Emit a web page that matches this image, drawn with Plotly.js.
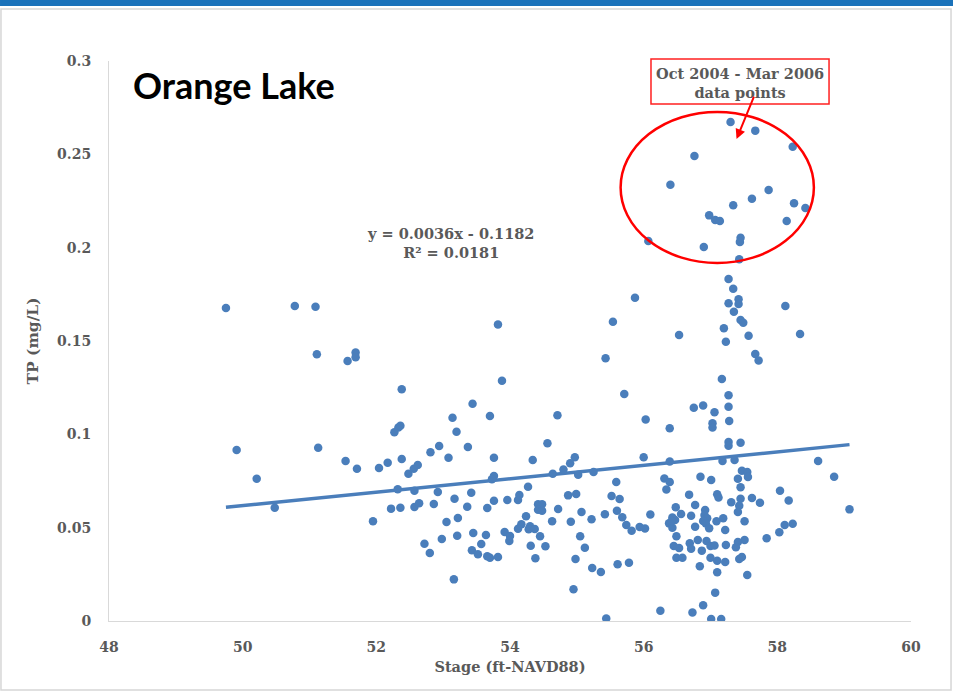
<!DOCTYPE html>
<html>
<head>
<meta charset="utf-8">
<script src="https://cdn.plot.ly/plotly-3.0.1.min.js"></script>
<style>
  html, body { margin: 0; padding: 0; background: #ffffff; }
  #chart { width: 953px; height: 695px; }
</style>
</head>
<body>
<div id="chart"></div>
<script>
// Lake stage (ft-NAVD88) against total phosphorus (mg/L)
const stage = [
  49.75, 50.78, 51.09, 51.11, 51.57, 51.69, 51.69, 52.38, 49.91, 51.13,
  50.21, 50.48, 51.54, 51.71, 52.04, 52.17, 52.38, 52.27, 52.33, 52.36,
  52.81, 52.94, 53.08, 52.48, 52.56, 52.62, 52.32, 52.57, 52.92, 52.22,
  52.36, 52.57, 52.64, 52.86, 51.95, 53.05, 52.98, 52.72, 52.80,
  55.87, 55.54, 53.82, 55.43, 53.88, 55.71, 53.44, 53.14, 53.70, 54.71,
  53.20, 53.37, 53.76, 54.56, 54.34, 54.97, 54.90, 54.80, 55.02, 55.25,
  54.64, 53.76, 53.73, 55.59, 54.27, 53.42, 53.17, 53.76, 53.96, 54.14,
  54.12, 54.87, 54.99, 55.52, 55.64, 53.36, 53.66, 54.42, 54.48, 54.42,
  54.48, 54.72, 55.07, 55.42, 55.60, 53.22, 54.24, 54.63, 54.91, 55.22,
  55.68, 55.74, 55.82, 55.94, 54.17, 54.12, 54.30, 54.28, 54.37, 53.21,
  53.45, 53.64, 53.57, 53.92, 54.00, 53.99, 54.45, 55.05, 55.12, 54.31,
  54.53, 53.43, 53.52, 53.66, 53.70, 53.82, 54.38, 54.98, 55.23, 55.36,
  55.61, 55.78, 53.16, 54.95, 55.44,
  57.27, 57.34, 57.27, 57.42, 57.42, 58.12, 57.35, 57.45, 57.49, 56.53,
  57.20, 57.23, 57.57, 58.34, 57.67, 57.72, 57.17, 57.27, 56.75, 56.89,
  57.27, 57.06, 56.03, 57.28, 56.39, 57.03, 57.03, 57.27, 57.27, 57.45,
  56.00, 56.39, 57.18, 57.36, 58.61, 58.85, 59.08, 57.47, 57.55, 57.56,
  57.41, 56.85, 57.01, 56.31, 56.39, 56.34, 57.45, 58.04, 58.17, 56.68,
  57.10, 57.12, 57.45, 57.62, 57.74, 57.31, 57.43, 57.41, 56.77, 56.48,
  56.56, 56.71, 56.92, 56.91, 56.95, 56.89, 56.93, 56.98, 57.09, 57.19,
  57.22, 57.51, 56.77, 56.43, 56.47, 56.38, 56.43, 56.42, 56.10, 56.02,
  56.49, 57.84, 58.03, 58.11, 58.23, 57.51, 57.41, 57.38, 56.81, 56.94,
  57.00, 57.06, 57.23, 56.69, 56.71, 56.87, 56.45, 56.53, 56.49, 56.58,
  57.00, 57.10, 57.22, 57.43, 57.47, 56.84, 57.10, 57.55, 57.07, 56.89,
  56.25, 56.73, 57.01, 57.16,
  57.30, 57.67, 58.23, 56.76, 56.40, 57.87, 57.62, 57.34, 58.25, 58.42,
  56.98, 57.07, 57.14, 58.14, 57.45, 57.44, 56.07, 56.90, 57.43
];
const tp = [
  0.1677, 0.1688, 0.1684, 0.1429, 0.1393, 0.1439, 0.1413, 0.1241, 0.0916, 0.0928,
  0.0762, 0.0607, 0.0857, 0.0816, 0.0820, 0.0848, 0.0868, 0.1011, 0.1036, 0.1046,
  0.0904, 0.0937, 0.0875, 0.0789, 0.0816, 0.0836, 0.0706, 0.0698, 0.0691, 0.0602,
  0.0607, 0.0611, 0.0631, 0.0627, 0.0534, 0.0530, 0.0439, 0.0414, 0.0364,
  0.1732, 0.1603, 0.1589, 0.1407, 0.1287, 0.1216, 0.1164, 0.1089, 0.1098, 0.1102,
  0.1014, 0.0932, 0.0875, 0.0952, 0.0862, 0.0877, 0.0845, 0.0811, 0.0784, 0.0798,
  0.0789, 0.0777, 0.0759, 0.0745, 0.0719, 0.0687, 0.0655, 0.0644, 0.0648, 0.0675,
  0.0648, 0.0673, 0.0680, 0.0670, 0.0654, 0.0612, 0.0605, 0.0625, 0.0625, 0.0596,
  0.0591, 0.0600, 0.0584, 0.0572, 0.0591, 0.0552, 0.0561, 0.0534, 0.0532, 0.0545,
  0.0556, 0.0514, 0.0484, 0.0504, 0.0518, 0.0494, 0.0507, 0.0491, 0.0493, 0.0457,
  0.0471, 0.0461, 0.0412, 0.0477, 0.0455, 0.0429, 0.0454, 0.0454, 0.0393, 0.0403,
  0.0400, 0.0379, 0.0357, 0.0347, 0.0339, 0.0343, 0.0336, 0.0332, 0.0284, 0.0262,
  0.0304, 0.0312, 0.0223, 0.0170, 0.0014,
  0.1832, 0.1780, 0.1702, 0.1723, 0.1698, 0.1688, 0.1657, 0.1612, 0.1598, 0.1532,
  0.1568, 0.1496, 0.1528, 0.1537, 0.1430, 0.1396, 0.1296, 0.1209, 0.1143, 0.1155,
  0.1148, 0.1118, 0.1080, 0.1071, 0.1032, 0.1059, 0.1036, 0.0959, 0.0939, 0.0955,
  0.0877, 0.0855, 0.0857, 0.0862, 0.0857, 0.0773, 0.0598, 0.0805, 0.0798, 0.0771,
  0.0762, 0.0773, 0.0755, 0.0764, 0.0745, 0.0705, 0.0716, 0.0698, 0.0645, 0.0677,
  0.0679, 0.0661, 0.0655, 0.0659, 0.0634, 0.0636, 0.0618, 0.0584, 0.0621, 0.0609,
  0.0573, 0.0564, 0.0595, 0.0568, 0.0550, 0.0536, 0.0523, 0.0497, 0.0534, 0.0550,
  0.0487, 0.0534, 0.0505, 0.0555, 0.0541, 0.0523, 0.0500, 0.0536, 0.0571, 0.0495,
  0.0454, 0.0443, 0.0475, 0.0514, 0.0521, 0.0434, 0.0423, 0.0395, 0.0434, 0.0429,
  0.0402, 0.0404, 0.0407, 0.0416, 0.0387, 0.0377, 0.0402, 0.0391, 0.0339, 0.0339,
  0.0339, 0.0323, 0.0316, 0.0332, 0.0343, 0.0293, 0.0261, 0.0246, 0.0152, 0.0084,
  0.0055, 0.0046, 0.0011, 0.0011,
  0.2673, 0.2627, 0.2541, 0.2491, 0.2337, 0.2309, 0.2262, 0.2227, 0.2238, 0.2212,
  0.2173, 0.2148, 0.2143, 0.2143, 0.2053, 0.2030, 0.2036, 0.2004, 0.1938
];

// Linear trendline as reported on the chart
const trendSlope = 0.0036;
const trendIntercept = -0.1182;
const trendLabel = ['y = 0.0036x - 0.1182', 'R² = 0.0181'];

const chartTitle = 'Orange Lake';
const xTitle = 'Stage (ft-NAVD88)';
const yTitle = 'TP (mg/L)';
const calloutText = ['Oct 2004 - Mar 2006', 'data points'];

const xTicks = [48, 50, 52, 54, 56, 58, 60];
const yTicks = [0, 0.05, 0.1, 0.15, 0.2, 0.25, 0.3];
const yTickText = ['0', '0.05', '0.1', '0.15', '0.2', '0.25', '0.3'];

const blue = '#4a7ebb';
const grey = '#595959';
const slab = 'DejaVu Serif, serif';

const xMin = Math.min(...stage);
const xMax = Math.max(...stage);
const trendX = [xMin, xMax];
const trendY = trendX.map(v => trendSlope * v + trendIntercept);

const traces = [
  {
    type: 'scatter', mode: 'lines', x: trendX, y: trendY,
    line: { color: blue, width: 3.5 }, hoverinfo: 'skip', showlegend: false
  },
  {
    type: 'scatter', mode: 'markers', x: stage, y: tp,
    marker: { color: blue, size: 8.5, line: { width: 0 } }, showlegend: false
  }
];

const tickFont = { family: slab, size: 14, color: grey, weight: 'bold' };
const axisTitleFont = { family: slab, size: 14.5, color: grey, weight: 'bold' };
const noteFont = { family: slab, size: 14.5, color: grey, weight: 'bold' };

const layout = {
  width: 953, height: 695,
  paper_bgcolor: '#ffffff', plot_bgcolor: '#ffffff',
  margin: { l: 109, r: 42, t: 61, b: 74 },
  showlegend: false,
  title: {
    text: chartTitle,
    font: { family: 'Lato, sans-serif', size: 36, color: '#000000', weight: 'bold' },
    x: 0.030, xref: 'paper', xanchor: 'left',
    y: 0.875, yref: 'container', yanchor: 'middle'
  },
  xaxis: {
    range: [48, 60], tickvals: xTicks, ticktext: xTicks.map(String),
    showgrid: false, zeroline: false,
    showline: true, linecolor: '#d9d9d9', linewidth: 1,
    ticks: 'outside', ticklen: 13, tickcolor: 'rgba(0,0,0,0)',
    tickfont: tickFont,
    title: { text: xTitle, font: axisTitleFont, standoff: 8 }
  },
  yaxis: {
    range: [0, 0.3], tickvals: yTicks, ticktext: yTickText,
    showgrid: false, zeroline: false,
    showline: true, linecolor: '#d9d9d9', linewidth: 1,
    ticks: 'outside', ticklen: 14, tickcolor: 'rgba(0,0,0,0)',
    tickfont: tickFont,
    title: { text: yTitle, font: { family: slab, size: 15.5, color: grey, weight: 'bold' }, standoff: 14 }
  },
  shapes: [
    // slide header bar and frame
    { type: 'rect', xref: 'paper', yref: 'paper',
      x0: -0.1359, x1: 1.0524, y0: 1.0982, y1: 1.1089,
      fillcolor: '#1a72ba', line: { width: 0 }, layer: 'below' },
    { type: 'rect', xref: 'paper', yref: 'paper',
      x0: -0.1347, x1: 1.0499, y0: -0.1232, y1: 1.0929,
      fillcolor: 'rgba(0,0,0,0)', line: { color: '#d6d6d6', width: 1.5 }, layer: 'below' },
    // ellipse around the 2004-2006 points
    { type: 'circle', xref: 'x', yref: 'y',
      x0: 55.655, x1: 58.547, y0: 0.1918, y1: 0.2727,
      line: { color: '#ff0000', width: 2.5 } },
    // callout box
    { type: 'rect', xref: 'paper', yref: 'paper',
      x0: 0.6758, x1: 0.8978, y0: 0.9232, y1: 1.0036,
      fillcolor: 'rgba(0,0,0,0)', line: { color: '#ff2020', width: 1.5 } }
  ],
  annotations: [
    { xref: 'paper', yref: 'paper', x: 0.7868, y: 0.9607,
      text: calloutText.join('<br>'), showarrow: false,
      font: noteFont, align: 'center', xanchor: 'center', yanchor: 'middle' },
    { xref: 'x', yref: 'y', x: 57.39, y: 0.2582,
      text: '', showarrow: true, arrowhead: 2, arrowsize: 1, arrowwidth: 2,
      arrowcolor: '#ff0000', ax: 18, ay: -44 },
    { xref: 'paper', yref: 'paper', x: 0.4258, y: 0.6750,
      text: trendLabel.join('<br>'), showarrow: false,
      font: noteFont, align: 'center', xanchor: 'center', yanchor: 'middle' }
  ]
};

Plotly.newPlot('chart', traces, layout, { displayModeBar: false, staticPlot: true });
</script>
</body>
</html>
